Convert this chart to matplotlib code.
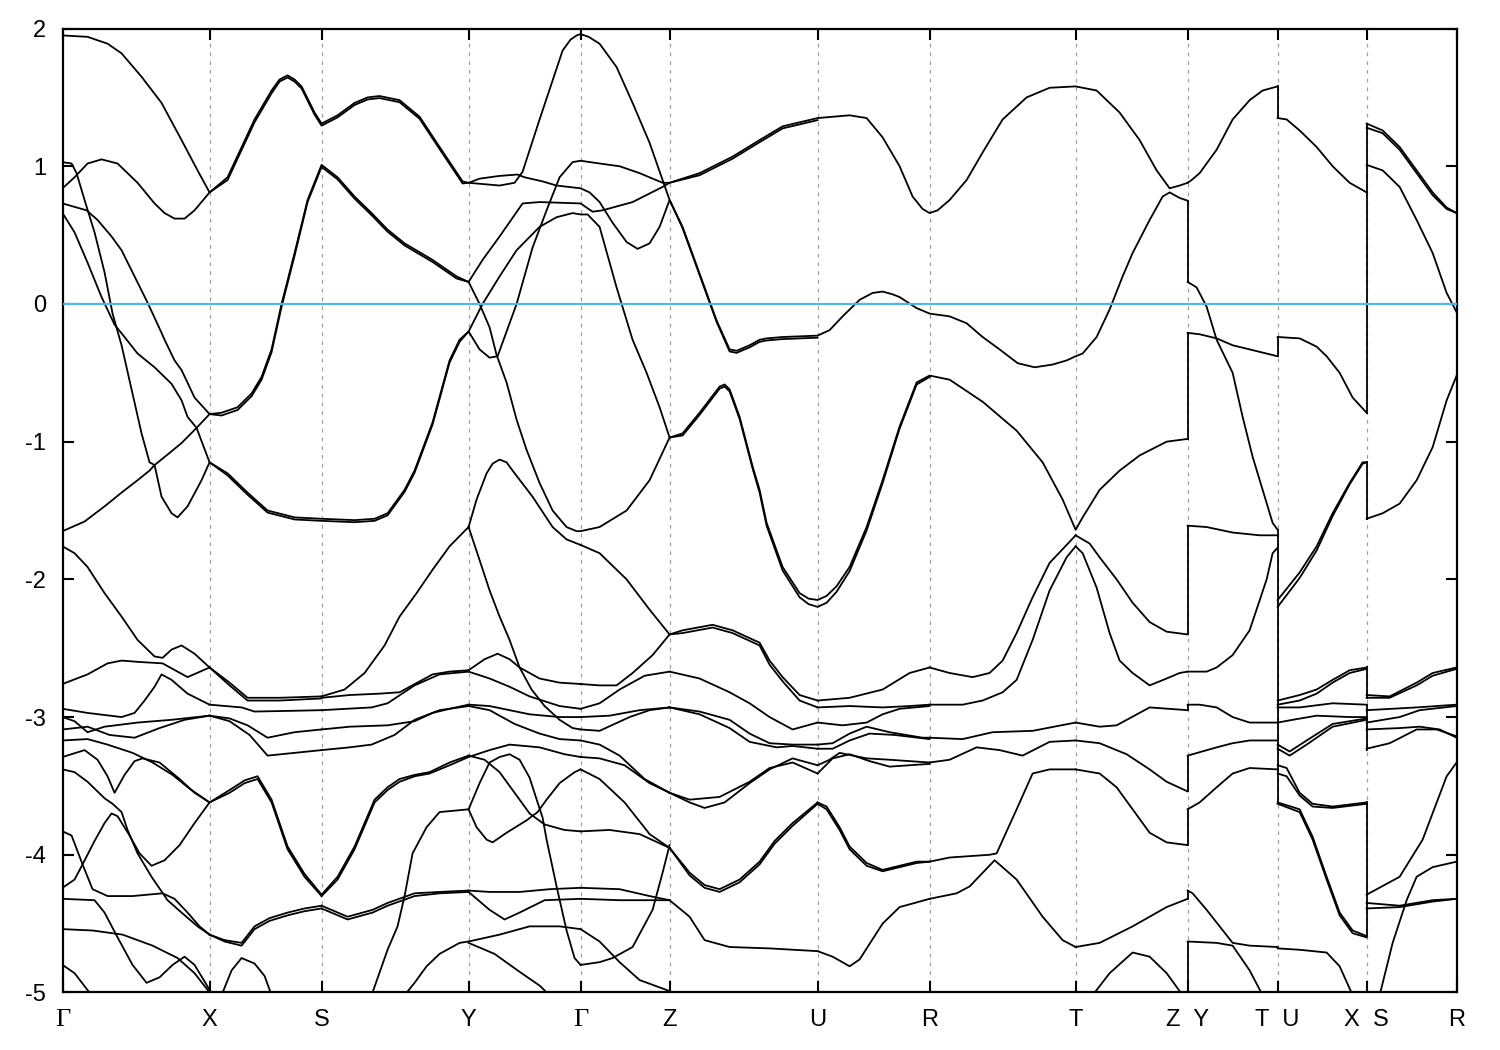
import matplotlib
matplotlib.use("Agg")
import matplotlib.pyplot as plt

plt.rcParams['font.family'] = ['Liberation Sans', 'DejaVu Sans']

# k-path (arbitrary path units) and labels
k_ticks = [0, 147, 259, 406, 518, 607, 755, 867, 1013, 1125, 1215, 1304, 1394]
k_labels = ['Γ', 'X', 'S', 'Y', 'Γ', 'Z', 'U', 'R', 'T', 'Z  Y', 'T  U', 'X  S', 'R']
e_ticks = [2, 1, 0, -1, -2, -3, -4, -5]

# ---------------- upper bands (k, E in eV) ----------------
band_01 = [(0, 1.95), (25, 1.94), (45, 1.89), (59, 1.82), (79, 1.65), (99, 1.46), (119, 1.19), (135, 0.97), (147, 0.81),
           (165, 0.92), (192, 1.34), (209, 1.55), (217, 1.63), (225, 1.66), (232, 1.63), (239, 1.58), (252, 1.39),
           (259, 1.31),
           (275, 1.37), (292, 1.46), (305, 1.50), (317, 1.51), (337, 1.48), (357, 1.36), (377, 1.14), (400, 0.89),
           (406, 0.88),
           (437, 0.86), (452, 0.88), (460, 0.96), (477, 1.34), (500, 1.84), (508, 1.92), (514, 1.95), (518, 1.96),
           (526, 1.94), (537, 1.89), (554, 1.72), (570, 1.46), (587, 1.17), (600, 0.90), (607, 0.755),
           (620, 0.56), (637, 0.22), (654, -0.12), (667, -0.33), (674, -0.34), (687, -0.30), (697, -0.26),
           (704, -0.25), (720, -0.24), (755, -0.23),
           (767, -0.19), (780, -0.09), (797, 0.03), (810, 0.08), (820, 0.09), (830, 0.07), (837, 0.05), (854, -0.03),
           (867, -0.07),
           (887, -0.09), (904, -0.14), (920, -0.24), (937, -0.33), (955, -0.43), (972, -0.46), (990, -0.44),
           (1004, -0.41), (1013, -0.38),
           (1020, -0.36), (1034, -0.24), (1047, -0.04), (1060, 0.20), (1070, 0.37), (1087, 0.61), (1100, 0.78),
           (1107, 0.81), (1117, 0.77), (1125, 0.75)]
band_02 = [(0, 0.84), (12, 0.92), (25, 1.02), (39, 1.05), (55, 1.02), (75, 0.88), (92, 0.73), (102, 0.66), (112, 0.62),
           (122, 0.62), (132, 0.68), (147, 0.81),
           (165, 0.90), (192, 1.32), (209, 1.53), (217, 1.615), (225, 1.645), (232, 1.615), (239, 1.565),
           (252, 1.375), (259, 1.295),
           (275, 1.355), (292, 1.445), (305, 1.485), (317, 1.495), (337, 1.465), (357, 1.345), (377, 1.125),
           (400, 0.875), (406, 0.88),
           (417, 0.91), (437, 0.93), (455, 0.94), (462, 0.92), (480, 0.89), (494, 0.86), (518, 0.84),
           (527, 0.81), (537, 0.74), (550, 0.59), (564, 0.45), (575, 0.40), (587, 0.44), (597, 0.56), (607, 0.755),
           (620, 0.55), (637, 0.21), (654, -0.13), (667, -0.345), (674, -0.355), (687, -0.315), (697, -0.275),
           (704, -0.265), (720, -0.255), (755, -0.245)]
band_03 = [(0, 0.73), (24, 0.68), (35, 0.61), (49, 0.49), (59, 0.39), (72, 0.20), (85, 0.01), (99, -0.21), (102, -0.26),
           (112, -0.41), (119, -0.48), (132, -0.68), (147, -0.80),
           (159, -0.79), (175, -0.75), (189, -0.65), (199, -0.53), (209, -0.33), (219, 0.0), (232, 0.37), (245, 0.755),
           (259, 1.01),
           (275, 0.92), (292, 0.78), (309, 0.66), (325, 0.54), (342, 0.44), (370, 0.32), (394, 0.20), (406, 0.16),
           (420, 0.32), (437, 0.49), (460, 0.73), (477, 0.74), (518, 0.73),
           (530, 0.67), (540, 0.68), (570, 0.74), (600, 0.85), (607, 0.88),
           (637, 0.95), (670, 1.07), (697, 1.19), (720, 1.29), (755, 1.35),
           (787, 1.37), (804, 1.35), (820, 1.21), (837, 1.0), (850, 0.78), (860, 0.69), (867, 0.66), (875, 0.68),
           (887, 0.755), (904, 0.9), (920, 1.10), (940, 1.34), (964, 1.50), (987, 1.57), (1013, 1.58),
           (1034, 1.55), (1057, 1.39), (1077, 1.19), (1094, 0.97), (1107, 0.84), (1117, 0.86), (1125, 0.88)]
band_04 = [(0, -1.65), (22, -1.58), (42, -1.47), (59, -1.37), (75, -1.28), (87, -1.21), (92, -1.17), (109, -1.07),
           (119, -1.01), (134, -0.90), (147, -0.80),
           (159, -0.81), (175, -0.77), (189, -0.67), (199, -0.55), (209, -0.35), (219, -0.02), (232, 0.35), (245, 0.74),
           (259, 0.995),
           (275, 0.905), (292, 0.765), (309, 0.645), (325, 0.525), (342, 0.425), (370, 0.305), (394, 0.185), (406, 0.16),
           (417, 0.0), (427, -0.17), (434, -0.37), (444, -0.57), (454, -0.84), (464, -1.06), (477, -1.30), (490, -1.50),
           (504, -1.62), (514, -1.65), (518, -1.65),
           (537, -1.62), (564, -1.50), (587, -1.28), (607, -0.97),
           (620, -0.955), (637, -0.805), (657, -0.615), (662, -0.60), (667, -0.635), (677, -0.835), (690, -1.195),
           (697, -1.37), (704, -1.61), (720, -1.935), (737, -2.13), (746, -2.18), (755, -2.20), (764, -2.17),
           (774, -2.09), (787, -1.94), (804, -1.645), (820, -1.30), (837, -0.905), (854, -0.585), (867, -0.53)]
band_05 = [(0, 0.66), (12, 0.52), (25, 0.30), (39, 0.05), (52, -0.15), (62, -0.24), (75, -0.36), (92, -0.46),
           (109, -0.58), (119, -0.70), (125, -0.82), (134, -0.90), (147, -1.15),
           (165, -1.23), (185, -1.37), (205, -1.50), (232, -1.55), (259, -1.56),
           (292, -1.57), (312, -1.56), (325, -1.52), (342, -1.35), (352, -1.21), (370, -0.86), (387, -0.41),
           (397, -0.26), (406, -0.20),
           (420, 0.0), (437, 0.2), (454, 0.39), (477, 0.56), (494, 0.63), (510, 0.66), (518, 0.65),
           (525, 0.65), (537, 0.56), (554, 0.12), (570, -0.26), (584, -0.50), (597, -0.75), (607, -0.97),
           (620, -0.94), (637, -0.79), (657, -0.60), (662, -0.585), (667, -0.62), (677, -0.82), (690, -1.18),
           (697, -1.35), (704, -1.59), (720, -1.91), (737, -2.10), (746, -2.14), (755, -2.15), (764, -2.12),
           (774, -2.05), (787, -1.91), (804, -1.62), (820, -1.28), (837, -0.89), (854, -0.57), (867, -0.52),
           (887, -0.55), (920, -0.71), (954, -0.92), (980, -1.15), (1000, -1.42), (1013, -1.64),
           (1020, -1.55), (1037, -1.35), (1047, -1.28), (1057, -1.21), (1077, -1.10), (1104, -1.0), (1125, -0.98)]
band_06 = [(0, 1.03), (9, 1.02), (14, 0.95), (22, 0.755), (32, 0.52), (42, 0.23), (50, -0.07), (59, -0.30),
           (69, -0.62), (79, -0.94), (87, -1.15), (92, -1.17),
           (99, -1.40), (109, -1.52), (115, -1.55), (125, -1.47), (139, -1.28), (147, -1.15),
           (165, -1.245), (185, -1.385), (205, -1.515), (232, -1.565), (259, -1.575),
           (292, -1.585), (312, -1.575), (325, -1.535), (342, -1.365), (352, -1.225), (370, -0.875), (387, -0.425),
           (397, -0.275), (406, -0.20),
           (417, -0.33), (427, -0.39), (435, -0.38), (454, 0.0), (470, 0.41), (484, 0.68), (497, 0.92), (510, 1.03),
           (518, 1.04),
           (537, 1.02), (557, 1.0), (577, 0.95), (600, 0.88), (607, 0.88),
           (637, 0.935), (670, 1.055), (697, 1.175), (720, 1.275), (755, 1.335)]

# group Y-T
band_07 = [(1125, 0.88), (1129, 0.90), (1137, 0.95), (1154, 1.12), (1170, 1.34), (1187, 1.48), (1200, 1.55), (1215, 1.58)]
band_08 = [(1125, 0.16), (1134, 0.12), (1144, -0.02), (1154, -0.26), (1170, -0.50), (1180, -0.82), (1190, -1.11),
           (1200, -1.35), (1210, -1.59), (1215, -1.64)]
band_09 = [(1125, -0.21), (1137, -0.22), (1154, -0.25), (1170, -0.30), (1187, -0.33), (1215, -0.38)]
band_10 = [(1125, -1.61), (1144, -1.62), (1170, -1.66), (1197, -1.68), (1215, -1.68)]
# group U-X
band_11 = [(1215, 1.35), (1224, 1.34), (1237, 1.26), (1254, 1.14), (1270, 1.0), (1287, 0.88), (1304, 0.81)]
band_12 = [(1215, -0.24), (1237, -0.25), (1254, -0.31), (1264, -0.38), (1277, -0.50), (1290, -0.68), (1304, -0.79)]
band_13 = [(1215, -2.15), (1237, -1.95), (1254, -1.76), (1270, -1.52), (1287, -1.30), (1300, -1.15), (1304, -1.15)]
band_14 = [(1215, -2.20), (1237, -1.99), (1254, -1.79), (1270, -1.54), (1287, -1.31), (1300, -1.16), (1304, -1.15)]
# group S-R
band_15 = [(1304, 1.31), (1320, 1.26), (1337, 1.14), (1354, 0.97), (1370, 0.81), (1384, 0.70), (1394, 0.66)]
band_16 = [(1304, 1.28), (1320, 1.24), (1337, 1.12), (1354, 0.95), (1370, 0.79), (1384, 0.69), (1394, 0.66)]
band_17 = [(1304, 1.01), (1320, 0.97), (1337, 0.85), (1354, 0.61), (1370, 0.37), (1384, 0.08), (1394, -0.06)]
band_18 = [(1304, -1.56), (1320, -1.52), (1337, -1.45), (1354, -1.28), (1370, -1.04), (1384, -0.70), (1394, -0.52)]

# ---------------- lower bands, segment by segment ----------------
gx_1 = [(0, -1.76), (12, -1.81), (25, -1.91), (42, -2.10), (59, -2.27), (75, -2.44), (92, -2.56), (100, -2.57),
        (109, -2.51), (119, -2.48), (132, -2.54), (147, -2.64)]
gx_2 = [(0, -2.76), (25, -2.69), (45, -2.61), (59, -2.59), (77, -2.60), (100, -2.61), (125, -2.71), (147, -2.64)]
gx_3 = [(0, -2.94), (25, -2.97), (59, -3.0), (72, -2.97), (82, -2.88), (92, -2.78), (99, -2.69), (109, -2.73),
        (125, -2.83), (147, -2.91)]
gx_4 = [(0, -3.0), (12, -3.03), (25, -3.11), (42, -3.07), (75, -3.04), (109, -3.02), (147, -2.99)]
gx_5 = [(0, -3.09), (25, -3.07), (47, -3.13), (72, -3.15), (97, -3.08), (122, -3.02), (147, -2.99)]
gx_6 = [(0, -3.17), (25, -3.16), (45, -3.20), (70, -3.26), (90, -3.33), (110, -3.42), (127, -3.52), (147, -3.62)]
gx_7 = [(0, -3.29), (22, -3.24), (35, -3.31), (45, -3.43), (52, -3.55), (62, -3.42), (72, -3.32), (80, -3.30),
        (97, -3.33), (117, -3.45), (132, -3.55), (147, -3.62)]
gx_8 = [(0, -3.38), (12, -3.40), (25, -3.47), (42, -3.59), (50, -3.63), (59, -3.69), (65, -3.82), (75, -3.99),
        (89, -4.16), (105, -4.33), (119, -4.42), (135, -4.52), (147, -4.58)]
gx_9 = [(0, -4.24), (12, -4.18), (20, -4.07), (32, -3.90), (42, -3.77), (49, -3.70), (55, -3.72), (67, -3.86),
        (77, -3.99), (89, -4.08), (102, -4.04), (117, -3.93), (132, -3.77), (147, -3.62)]
gx_10 = [(0, -3.83), (9, -3.86), (20, -4.07), (30, -4.25), (45, -4.30), (70, -4.30), (100, -4.28), (112, -4.32),
         (125, -4.42), (137, -4.52), (147, -4.58)]
gx_11 = [(0, -4.32), (32, -4.33), (42, -4.42), (55, -4.60), (70, -4.80), (84, -4.93), (97, -4.89), (110, -4.80),
         (122, -4.74), (132, -4.80), (142, -4.92), (150, -5.02)]
gx_12 = [(0, -4.54), (30, -4.55), (60, -4.58), (90, -4.66), (115, -4.75), (132, -4.86), (147, -5.0)]
gx_13 = [(0, -4.80), (12, -4.86), (29, -5.02)]

xs_1 = [(147, -2.64), (167, -2.75), (185, -2.86), (217, -2.86), (259, -2.85)]
xs_2 = [(147, -2.64), (167, -2.77), (185, -2.88), (217, -2.88), (259, -2.865)]
xs_3 = [(147, -2.91), (179, -2.93), (192, -2.96), (227, -2.955), (259, -2.95)]
xs_4 = [(147, -2.99), (167, -3.01), (185, -3.06), (205, -3.15), (232, -3.11), (259, -3.09)]
xs_5 = [(147, -2.99), (167, -3.03), (187, -3.13), (205, -3.28), (232, -3.26), (259, -3.24)]
xs_6 = [(147, -3.62), (167, -3.53), (182, -3.46), (195, -3.43), (209, -3.60), (225, -3.94), (242, -4.14), (259, -4.29)]
xs_7 = [(147, -3.62), (167, -3.55), (182, -3.48), (195, -3.45), (209, -3.62), (225, -3.96), (242, -4.16), (259, -4.30)]
xs_8 = [(147, -4.58), (162, -4.62), (179, -4.64), (192, -4.52), (207, -4.46), (225, -4.42), (242, -4.39), (259, -4.37)]
xs_9 = [(147, -4.58), (162, -4.63), (179, -4.66), (192, -4.54), (207, -4.48), (225, -4.44), (242, -4.41), (259, -4.39)]
xs_10 = [(159, -5.02), (169, -4.84), (179, -4.75), (192, -4.79), (202, -4.88), (209, -5.02)]

sy_1 = [(259, -2.85), (282, -2.80), (302, -2.68), (322, -2.48), (337, -2.27), (354, -2.10), (370, -1.93), (387, -1.76),
        (406, -1.62)]
sy_2 = [(259, -2.86), (287, -2.84), (317, -2.83), (337, -2.82), (370, -2.69), (387, -2.67), (406, -2.66)]
sy_3 = [(259, -2.95), (309, -2.93), (325, -2.90), (352, -2.77), (377, -2.69), (406, -2.67)]
sy_4 = [(259, -3.09), (287, -3.07), (325, -3.06), (352, -3.03), (370, -2.97), (387, -2.94), (406, -2.91)]
sy_5 = [(259, -3.24), (287, -3.22), (309, -3.20), (332, -3.13), (352, -3.02), (377, -2.95), (406, -2.92)]
sy_6 = [(259, -4.29), (275, -4.16), (292, -3.94), (312, -3.60), (325, -3.51), (337, -3.45), (352, -3.42), (367, -3.40),
        (387, -3.33), (406, -3.28)]
sy_7 = [(259, -4.30), (275, -4.18), (292, -3.96), (312, -3.62), (325, -3.53), (337, -3.47), (352, -3.43), (367, -3.41),
        (387, -3.35), (406, -3.29)]
sy_8 = [(259, -4.37), (285, -4.45), (310, -4.40), (325, -4.35), (352, -4.28), (377, -4.27), (406, -4.26)]
sy_9 = [(259, -4.39), (285, -4.47), (310, -4.42), (325, -4.37), (352, -4.30), (377, -4.28), (406, -4.27)]
sy_10 = [(309, -5.02), (325, -4.69), (335, -4.52), (342, -4.30), (350, -3.99), (364, -3.80), (377, -3.69), (406, -3.67)]
sy_11 = [(342, -5.02), (352, -4.93), (364, -4.81), (377, -4.72), (397, -4.64), (406, -4.63)]

yg_1 = [(406, -1.62), (414, -1.42), (424, -1.23), (430, -1.16), (437, -1.13), (444, -1.15), (450, -1.21), (470, -1.40),
        (490, -1.62), (504, -1.71), (518, -1.75)]
yg_2 = [(406, -1.62), (417, -1.86), (427, -2.08), (437, -2.27), (447, -2.44), (457, -2.64), (469, -2.80), (482, -2.92),
        (497, -3.02), (510, -3.08), (518, -3.09)]
yg_3 = [(406, -2.66), (422, -2.58), (435, -2.54), (447, -2.58), (457, -2.64), (477, -2.72), (497, -2.75), (518, -2.76)]
yg_4 = [(406, -2.67), (427, -2.72), (447, -2.78), (467, -2.85), (497, -2.92), (518, -2.94)]
yg_5 = [(406, -2.91), (427, -2.92), (447, -2.95), (467, -2.98), (497, -3.0), (518, -3.0)]
yg_6 = [(406, -2.92), (427, -2.95), (452, -3.05), (477, -3.12), (497, -3.16), (518, -3.17)]
yg_7 = [(406, -3.28), (422, -3.31), (437, -3.40), (452, -3.55), (467, -3.70), (482, -3.78), (502, -3.82), (518, -3.83)]
yg_8 = [(406, -3.29), (427, -3.24), (447, -3.20), (477, -3.22), (502, -3.27), (518, -3.29)]
yg_9 = [(406, -3.67), (417, -3.48), (427, -3.33), (437, -3.29), (447, -3.27), (457, -3.31), (467, -3.44), (475, -3.62),
        (480, -3.73), (484, -3.89), (494, -4.23), (504, -4.55), (512, -4.75), (518, -4.80)]
yg_10 = [(406, -3.67), (414, -3.80), (424, -3.89), (430, -3.91), (444, -3.84), (464, -3.75), (475, -3.69), (484, -3.60),
         (497, -3.48), (512, -3.40), (518, -3.38)]
yg_11 = [(406, -4.26), (427, -4.27), (457, -4.27), (487, -4.25), (518, -4.24)]
yg_12 = [(406, -4.27), (427, -4.40), (442, -4.47), (457, -4.42), (482, -4.33), (518, -4.32)]
yg_13 = [(406, -4.63), (437, -4.58), (467, -4.52), (497, -4.52), (518, -4.54)]
yg_14 = [(406, -4.64), (432, -4.72), (457, -4.85), (477, -4.95), (487, -5.02)]

gz_1 = [(518, -1.75), (537, -1.81), (564, -2.0), (587, -2.22), (607, -2.40)]
gz_2 = [(518, -2.76), (537, -2.77), (554, -2.77), (570, -2.68), (590, -2.55), (607, -2.40)]
gz_3 = [(518, -2.94), (537, -2.90), (557, -2.80), (582, -2.70), (607, -2.67)]
gz_4 = [(518, -3.0), (547, -2.99), (577, -2.95), (607, -2.93)]
gz_5 = [(518, -3.09), (537, -3.10), (567, -3.00), (587, -2.95), (607, -2.93)]
gz_6 = [(518, -3.17), (537, -3.20), (557, -3.28), (582, -3.45), (607, -3.55)]
gz_7 = [(518, -3.29), (537, -3.30), (562, -3.35), (587, -3.48), (607, -3.55)]
gz_8 = [(518, -3.38), (537, -3.45), (562, -3.62), (587, -3.85), (607, -3.95)]
gz_9 = [(518, -3.83), (547, -3.82), (577, -3.85), (607, -3.95)]
gz_10 = [(518, -4.24), (557, -4.25), (587, -4.30), (607, -4.33)]
gz_11 = [(518, -4.32), (557, -4.33), (587, -4.33), (607, -4.33)]
gz_12 = [(518, -4.54), (537, -4.63), (557, -4.78), (577, -4.91), (607, -4.99)]
gz_13 = [(518, -4.80), (537, -4.78), (550, -4.75), (570, -4.67), (590, -4.40), (600, -4.13), (607, -3.93)]

zu_1 = [(607, -2.40), (620, -2.37), (650, -2.33), (670, -2.37), (697, -2.46), (707, -2.59), (720, -2.71), (737, -2.84),
        (755, -2.88)]
zu_2 = [(607, -2.40), (620, -2.39), (650, -2.35), (670, -2.39), (697, -2.48), (707, -2.62), (720, -2.74), (737, -2.88),
        (755, -2.93)]
zu_3 = [(607, -2.67), (637, -2.72), (667, -2.82), (687, -2.90), (707, -3.0), (730, -3.09), (755, -3.04)]
zu_4 = [(607, -2.93), (637, -2.96), (667, -3.02), (687, -3.12), (707, -3.19), (730, -3.20), (755, -3.20)]
zu_5 = [(607, -2.93), (637, -2.98), (667, -3.08), (687, -3.18), (714, -3.22), (730, -3.21), (755, -3.23)]
zu_6 = [(607, -3.55), (627, -3.62), (642, -3.66), (662, -3.62), (687, -3.48), (707, -3.38), (730, -3.30), (755, -3.35)]
zu_7 = [(607, -3.55), (627, -3.60), (657, -3.58), (687, -3.47), (707, -3.37), (730, -3.33), (755, -3.41)]
zu_8 = [(607, -3.95), (627, -4.13), (642, -4.22), (657, -4.25), (677, -4.18), (697, -4.05), (712, -3.90), (730, -3.77),
        (755, -3.62)]
zu_9 = [(607, -3.95), (627, -4.15), (642, -4.24), (657, -4.27), (677, -4.20), (697, -4.07), (712, -3.92), (730, -3.79),
        (755, -3.63)]
zu_10 = [(607, -4.33), (627, -4.45), (642, -4.62), (667, -4.67), (707, -4.68), (755, -4.70)]

ur_1 = [(755, -2.88), (787, -2.86), (820, -2.80), (847, -2.68), (867, -2.64)]
ur_2 = [(755, -2.93), (787, -2.92), (820, -2.93), (847, -2.92), (867, -2.91)]
ur_3 = [(755, -3.04), (780, -3.06), (804, -3.04), (820, -2.98), (837, -2.94), (867, -2.92)]
ur_4 = [(755, -3.20), (770, -3.19), (787, -3.12), (804, -3.07), (827, -3.11), (860, -3.15), (867, -3.15)]
ur_5 = [(755, -3.23), (770, -3.23), (787, -3.17), (807, -3.12), (832, -3.13), (867, -3.16)]
ur_6 = [(755, -3.35), (767, -3.31), (777, -3.26), (804, -3.30), (827, -3.31), (867, -3.33)]
ur_7 = [(755, -3.41), (770, -3.30), (787, -3.27), (807, -3.32), (827, -3.36), (867, -3.34)]
ur_8 = [(755, -3.62), (764, -3.65), (777, -3.80), (787, -3.94), (804, -4.06), (820, -4.11), (854, -4.05), (867, -4.05)]
ur_9 = [(755, -3.63), (764, -3.67), (777, -3.82), (787, -3.96), (804, -4.08), (820, -4.12), (854, -4.06), (867, -4.05)]
ur_10 = [(755, -4.70), (770, -4.74), (787, -4.81), (797, -4.76), (820, -4.50), (837, -4.38), (867, -4.32)]

rt_1 = [(867, -2.64), (887, -2.68), (910, -2.71), (927, -2.68), (940, -2.59), (954, -2.39), (970, -2.13), (987, -1.88),
        (1004, -1.75), (1013, -1.68)]
rt_2 = [(867, -2.91), (900, -2.91), (920, -2.88), (940, -2.82), (954, -2.73), (970, -2.44), (987, -2.08), (1004, -1.84),
        (1013, -1.76)]
rt_3 = [(867, -3.15), (900, -3.16), (930, -3.11), (970, -3.10), (1013, -3.04)]
rt_4 = [(867, -3.33), (887, -3.31), (914, -3.22), (937, -3.24), (960, -3.28), (987, -3.18), (1013, -3.17)]
rt_5 = [(867, -4.05), (887, -4.02), (927, -4.0), (934, -3.99), (954, -3.67), (970, -3.41), (987, -3.38), (1013, -3.38)]
rt_6 = [(867, -4.32), (894, -4.28), (907, -4.23), (932, -4.04), (954, -4.18), (980, -4.45), (1000, -4.62), (1013, -4.67)]

tz_1 = [(1013, -1.68), (1027, -1.74), (1037, -1.84), (1054, -2.0), (1070, -2.17), (1087, -2.31), (1104, -2.38),
        (1125, -2.40)]
tz_2 = [(1013, -1.76), (1020, -1.81), (1034, -2.06), (1047, -2.39), (1057, -2.59), (1070, -2.68), (1087, -2.77),
        (1104, -2.72), (1117, -2.68), (1125, -2.67)]
tz_3 = [(1013, -3.04), (1037, -3.07), (1054, -3.06), (1087, -2.93), (1125, -2.95)]
tz_4 = [(1013, -3.17), (1037, -3.19), (1064, -3.27), (1087, -3.38), (1104, -3.47), (1125, -3.54)]
tz_5 = [(1013, -3.38), (1037, -3.41), (1054, -3.51), (1070, -3.67), (1087, -3.84), (1104, -3.91), (1125, -3.93)]
tz_6 = [(1013, -4.67), (1037, -4.64), (1070, -4.52), (1104, -4.38), (1125, -4.32)]
tz_7 = [(1030, -5.02), (1047, -4.86), (1070, -4.71), (1087, -4.74), (1104, -4.86), (1120, -5.02)]

yt_1 = [(1125, -2.67), (1144, -2.67), (1154, -2.64), (1170, -2.55), (1187, -2.37), (1204, -2.0), (1210, -1.81),
        (1215, -1.77)]
yt_2 = [(1125, -2.91), (1137, -2.91), (1154, -2.93), (1170, -3.0), (1187, -3.04), (1215, -3.04)]
yt_3 = [(1125, -3.28), (1154, -3.22), (1170, -3.19), (1187, -3.17), (1215, -3.17)]
yt_4 = [(1125, -3.67), (1137, -3.62), (1154, -3.51), (1170, -3.41), (1187, -3.37), (1215, -3.38)]
yt_5 = [(1125, -4.26), (1130, -4.28), (1144, -4.40), (1157, -4.52), (1170, -4.64), (1187, -4.66), (1215, -4.67)]
yt_6 = [(1125, -4.63), (1154, -4.64), (1170, -4.66), (1187, -4.84), (1200, -5.02)]

ux_1 = [(1215, -2.88), (1237, -2.84), (1254, -2.80), (1270, -2.73), (1287, -2.66), (1304, -2.64)]
ux_2 = [(1215, -2.91), (1237, -2.88), (1254, -2.83), (1270, -2.75), (1287, -2.68), (1304, -2.65)]
ux_3 = [(1215, -2.93), (1237, -2.93), (1270, -2.90), (1304, -2.91)]
ux_4 = [(1215, -3.04), (1230, -3.02), (1254, -2.99), (1287, -3.0), (1304, -3.0)]
ux_5 = [(1215, -3.20), (1227, -3.25), (1244, -3.17), (1270, -3.05), (1304, -3.01)]
ux_6 = [(1215, -3.23), (1227, -3.28), (1244, -3.20), (1270, -3.07), (1304, -3.02)]
ux_7 = [(1215, -3.35), (1224, -3.37), (1237, -3.55), (1250, -3.63), (1270, -3.65), (1304, -3.62)]
ux_8 = [(1215, -3.41), (1224, -3.43), (1237, -3.57), (1250, -3.65), (1270, -3.66), (1304, -3.63)]
ux_9 = [(1215, -3.62), (1237, -3.67), (1250, -3.87), (1264, -4.16), (1277, -4.42), (1290, -4.55), (1304, -4.59)]
ux_10 = [(1215, -3.63), (1237, -3.69), (1250, -3.89), (1264, -4.18), (1277, -4.44), (1290, -4.57), (1304, -4.60)]
ux_11 = [(1215, -4.68), (1237, -4.69), (1264, -4.71), (1277, -4.81), (1290, -5.02)]

sr_1 = [(1304, -2.84), (1327, -2.85), (1354, -2.75), (1370, -2.68), (1394, -2.64)]
sr_2 = [(1304, -2.86), (1327, -2.86), (1354, -2.77), (1370, -2.70), (1394, -2.65)]
sr_3 = [(1304, -2.95), (1354, -2.93), (1394, -2.91)]
sr_4 = [(1304, -3.04), (1337, -3.0), (1357, -2.95), (1394, -2.92)]
sr_5 = [(1304, -3.09), (1337, -3.08), (1357, -3.07), (1377, -3.09), (1394, -3.15)]
sr_6 = [(1304, -3.23), (1327, -3.19), (1354, -3.09), (1374, -3.09), (1394, -3.14)]
sr_7 = [(1304, -4.29), (1337, -4.16), (1360, -3.89), (1384, -3.43), (1394, -3.33)]
sr_8 = [(1304, -4.35), (1337, -4.37), (1370, -4.33), (1394, -4.32)]
sr_9 = [(1304, -4.39), (1337, -4.38), (1370, -4.34), (1394, -4.32)]
sr_10 = [(1317, -5.02), (1330, -4.64), (1344, -4.33), (1354, -4.16), (1370, -4.09), (1394, -4.05)]

# jumps where the path is discontinuous: (k, E_from, E_to)
jumps = [(1125, 0.75, 0.16), (1125, -0.21, -0.98), (1125, -1.61, -2.40), (1125, -2.91, -2.95),
         (1125, -3.28, -3.54), (1125, -3.67, -3.93), (1125, -4.26, -4.32), (1125, -4.63, -5.0),
         (1215, 1.58, 1.35), (1215, -0.24, -0.38), (1215, -1.64, -3.62),
         (1304, 1.31, -0.79), (1304, -1.15, -1.56), (1304, -2.64, -2.86), (1304, -2.91, -3.24),
         (1304, -3.62, -4.59)]

bands = [band_01, band_02, band_03, band_04, band_05, band_06, band_07, band_08, band_09, band_10,
         band_11, band_12, band_13, band_14, band_15, band_16, band_17, band_18,
         gx_1, gx_2, gx_3, gx_4, gx_5, gx_6, gx_7, gx_8, gx_9, gx_10, gx_11, gx_12, gx_13,
         xs_1, xs_2, xs_3, xs_4, xs_5, xs_6, xs_7, xs_8, xs_9, xs_10,
         sy_1, sy_2, sy_3, sy_4, sy_5, sy_6, sy_7, sy_8, sy_9, sy_10, sy_11,
         yg_1, yg_2, yg_3, yg_4, yg_5, yg_6, yg_7, yg_8, yg_9, yg_10, yg_11, yg_12, yg_13, yg_14,
         gz_1, gz_2, gz_3, gz_4, gz_5, gz_6, gz_7, gz_8, gz_9, gz_10, gz_11, gz_12, gz_13,
         zu_1, zu_2, zu_3, zu_4, zu_5, zu_6, zu_7, zu_8, zu_9, zu_10,
         ur_1, ur_2, ur_3, ur_4, ur_5, ur_6, ur_7, ur_8, ur_9, ur_10,
         rt_1, rt_2, rt_3, rt_4, rt_5, rt_6,
         tz_1, tz_2, tz_3, tz_4, tz_5, tz_6, tz_7,
         yt_1, yt_2, yt_3, yt_4, yt_5, yt_6,
         ux_1, ux_2, ux_3, ux_4, ux_5, ux_6, ux_7, ux_8, ux_9, ux_10, ux_11,
         sr_1, sr_2, sr_3, sr_4, sr_5, sr_6, sr_7, sr_8, sr_9, sr_10]

fig = plt.figure(figsize=(15, 10.5), dpi=100)
ax = fig.add_axes([0.0417, 0.0548, 0.9294, 0.918])

for k in k_ticks[1:-1]:
    ax.axvline(k, color='#a0a0a0', lw=0.9, ls=(0, (3, 4)), zorder=1)

for b in bands:
    ks = [p[0] for p in b]
    es = [p[1] for p in b]
    ax.plot(ks, es, color='black', lw=1.3, zorder=2, solid_joinstyle='round')

for k, e1, e2 in jumps:
    ax.plot([k, k], [e1, e2], color='black', lw=1.3, zorder=2)

ax.axhline(0, color='#56b4e9', lw=1.6, zorder=3)

ax.set_xlim(k_ticks[0], k_ticks[-1])
ax.set_ylim(-5, 2)
ax.set_xticks(k_ticks)
ax.set_xticklabels(k_labels)
ax.set_yticks(e_ticks)
ax.set_yticklabels([str(v) for v in e_ticks])
ax.tick_params(direction='in', length=8, width=1.5, top=True, right=True, labelsize=17)
ax.tick_params(axis='x', pad=12)
ax.tick_params(axis='y', pad=12)
for lbl in ax.get_xticklabels():
    if lbl.get_text() == 'Γ':
        lbl.set_fontfamily('Liberation Serif')
        lbl.set_fontsize(19)
for s in ax.spines.values():
    s.set_linewidth(1.6)

fig.savefig('out.png', dpi=100)
